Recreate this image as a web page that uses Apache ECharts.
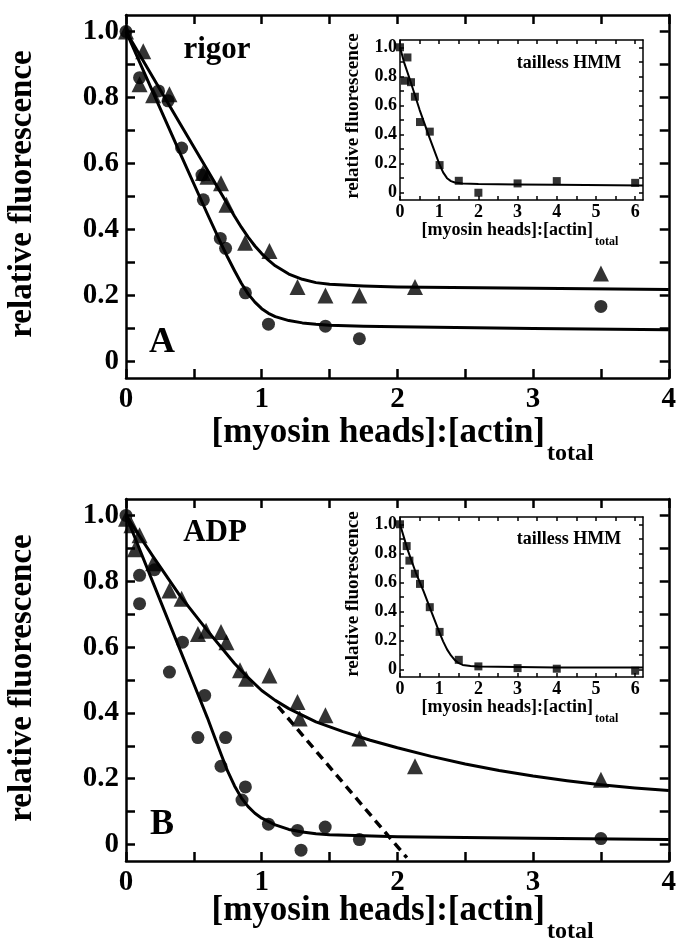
<!DOCTYPE html>
<html>
<head>
<meta charset="utf-8">
<script src="https://cdn.jsdelivr.net/npm/echarts@6/dist/echarts.min.js"></script>
<style>
  html, body { margin: 0; padding: 0; background: #fff; }
  #chart { width: 679px; height: 943px; }
</style>
</head>
<body>
<div id="chart"></div>
<script>
// ---- data ----
// panel A (rigor)
const rigorCircles = [[0, 1.0], [0.1, 0.86], [0.24, 0.82], [0.31, 0.79], [0.41, 0.647], [0.56, 0.565],
  [0.57, 0.49], [0.695, 0.373], [0.734, 0.343], [0.88, 0.208], [1.05, 0.113], [1.47, 0.107],
  [1.72, 0.069], [3.5, 0.167]];
const rigorTriangles = [[0, 1.0], [0.127, 0.94], [0.1, 0.84], [0.2, 0.807], [0.32, 0.81], [0.567, 0.571],
  [0.6, 0.56], [0.7, 0.54], [0.74, 0.475], [0.878, 0.36], [1.057, 0.335], [1.264, 0.226],
  [1.47, 0.2], [1.72, 0.2], [2.13, 0.226], [3.5, 0.267]];
const rigorCircleFit = [[0, 1.0], [0.2, 0.815], [0.4, 0.63], [0.6, 0.447], [0.7, 0.358], [0.75, 0.315],
  [0.8, 0.275], [0.85, 0.237], [0.9, 0.205], [0.95, 0.18], [1.0, 0.16], [1.05, 0.146], [1.1, 0.136],
  [1.2, 0.124], [1.3, 0.117], [1.4, 0.113], [1.5, 0.11], [1.75, 0.107], [2.0, 0.105], [3.0, 0.1],
  [4.0, 0.096]];
const rigorTriangleFit = [[0, 1.0], [0.2, 0.86], [0.4, 0.72], [0.6, 0.58], [0.8, 0.44], [0.85, 0.407],
  [0.9, 0.377], [0.95, 0.35], [1.0, 0.327], [1.05, 0.307], [1.1, 0.29], [1.2, 0.265], [1.3, 0.249],
  [1.4, 0.239], [1.5, 0.234], [1.75, 0.229], [2.0, 0.226], [3.0, 0.222], [4.0, 0.218]];
const rigorInsetSquares = [[0, 1.0], [0.125, 0.77], [0.19, 0.93], [0.28, 0.76], [0.38, 0.66], [0.51, 0.486],
  [0.76, 0.42], [1.01, 0.19], [1.5, 0.082], [2.0, 0.0], [3.0, 0.064], [4.0, 0.08], [6.0, 0.068]];
const rigorInsetFit = [[0, 1.0], [0.1, 0.9], [0.25, 0.78], [0.5, 0.57], [0.75, 0.38], [1.0, 0.2],
  [1.1, 0.14], [1.2, 0.1], [1.3, 0.08], [1.4, 0.07], [1.6, 0.064], [2.0, 0.06], [3.0, 0.057],
  [4.0, 0.054], [6.2, 0.05]];

// panel B (ADP)
const adpCircles = [[0, 1.0], [0.1, 0.818], [0.1, 0.732], [0.21, 0.835], [0.32, 0.524], [0.416, 0.615],
  [0.58, 0.453], [0.53, 0.325], [0.734, 0.325], [0.7, 0.238], [0.88, 0.175], [0.855, 0.135],
  [1.05, 0.062], [1.264, 0.043], [1.29, -0.017], [1.468, 0.053], [1.72, 0.015], [3.5, 0.018]];
const adpTriangles = [[0, 0.99], [0.04, 0.97], [0.1, 0.94], [0.066, 0.897], [0.2, 0.855], [0.32, 0.772],
  [0.41, 0.747], [0.53, 0.64], [0.59, 0.65], [0.7, 0.646], [0.74, 0.615], [0.84, 0.53], [0.885, 0.504],
  [1.057, 0.514], [1.264, 0.433], [1.28, 0.383], [1.47, 0.393], [1.72, 0.322], [2.13, 0.238], [3.5, 0.197]];
const adpCircleFit = [[0, 1.0], [0.2, 0.795], [0.4, 0.59], [0.5, 0.488], [0.6, 0.385], [0.65, 0.33],
  [0.7, 0.275], [0.75, 0.222], [0.8, 0.178], [0.85, 0.142], [0.9, 0.115], [0.95, 0.095], [1.0, 0.08],
  [1.1, 0.06], [1.2, 0.046], [1.3, 0.038], [1.4, 0.033], [1.5, 0.03], [2.0, 0.024], [3.0, 0.019],
  [4.0, 0.015]];
const adpTriangleFit = [[0, 1.0], [0.2, 0.875], [0.4, 0.755], [0.6, 0.65], [0.8, 0.55], [0.9, 0.507],
  [1.0, 0.468], [1.1, 0.438], [1.2, 0.413], [1.4, 0.373], [1.6, 0.343], [1.8, 0.317], [2.0, 0.294],
  [2.25, 0.268], [2.5, 0.245], [2.75, 0.225], [3.0, 0.208], [3.25, 0.194], [3.5, 0.182], [3.75, 0.172],
  [4.0, 0.164]];
const adpDashed = [[1.12, 0.42], [2.07, -0.04]];
const adpInsetSquares = [[0, 1.0], [0.17, 0.85], [0.24, 0.75], [0.38, 0.66], [0.51, 0.59], [0.76, 0.43],
  [1.01, 0.26], [1.5, 0.068], [2.0, 0.023], [3.0, 0.011], [4.0, 0.007], [6.0, -0.007]];
const adpInsetFit = [[0, 1.0], [0.1, 0.91], [0.2, 0.82], [0.4, 0.67], [0.6, 0.54], [0.8, 0.4], [1.0, 0.26],
  [1.1, 0.195], [1.2, 0.14], [1.3, 0.098], [1.4, 0.066], [1.5, 0.045], [1.6, 0.033], [1.8, 0.025],
  [2.0, 0.022], [3.0, 0.018], [4.0, 0.016], [6.2, 0.015]];

// tick labels
const mainXLabels = [0, 1, 2, 3, 4];
const mainXTicks = [0, 0.5, 1, 1.5, 2, 2.5, 3, 3.5, 4];
const yLabels = [0, 0.2, 0.4, 0.6, 0.8, 1.0];
const yTicks = [0, 0.1, 0.2, 0.3, 0.4, 0.5, 0.6, 0.7, 0.8, 0.9, 1.0];
const insetXLabels = [0, 1, 2, 3, 4, 5, 6];
const insetXTicks = [0, 0.5, 1, 1.5, 2, 2.5, 3, 3.5, 4, 4.5, 5, 5.5, 6];

const FONT = '"Liberation Serif", "DejaVu Serif", serif';
const yFmt = v => (v === 0 ? '0' : v.toFixed(1));

var chart = echarts.init(document.getElementById('chart'));

// one panel = main grid + inset grid, each with mirrored axes on all four sides
function xPair(grid, max, labels, ticks, opts) {
  const common = {
    type: 'value', gridIndex: grid, min: 0, max: max,
    splitLine: { show: false },
    axisLine: { show: true, onZero: false, lineStyle: { color: '#000', width: opts.lw } },
    axisTick: { show: true, inside: true, length: opts.tick, customValues: ticks,
      lineStyle: { color: '#000', width: opts.lw } }
  };
  return [
    Object.assign({}, common, { position: 'bottom',
      axisLabel: { show: true, customValues: labels, margin: opts.margin, color: '#000',
        fontFamily: FONT, fontWeight: 'bold', fontSize: opts.fs } }),
    Object.assign({}, common, { position: 'top', axisLabel: { show: false } })
  ];
}
function yPair(grid, labels, ticks, opts) {
  const common = {
    type: 'value', gridIndex: grid, min: -0.05, max: 1.05,
    splitLine: { show: false },
    axisLine: { show: true, onZero: false, lineStyle: { color: '#000', width: opts.lw } },
    axisTick: { show: true, inside: true, length: opts.tick, customValues: ticks,
      lineStyle: { color: '#000', width: opts.lw } }
  };
  return [
    Object.assign({}, common, { position: 'left',
      axisLabel: { show: true, customValues: labels, formatter: yFmt, margin: opts.margin, color: '#000',
        fontFamily: FONT, fontWeight: 'bold', fontSize: opts.fs } }),
    Object.assign({}, common, { position: 'right', axisLabel: { show: false } })
  ];
}

const mainOpt = { lw: 2.5, tick: 9, margin: 7, fs: 29 };
const insetOpt = { lw: 1.5, tick: 4, margin: 3, fs: 18 };

const xAxes = [].concat(
  xPair(0, 4, mainXLabels, mainXTicks, mainOpt),
  xPair(1, 6.2, insetXLabels, insetXTicks, insetOpt),
  xPair(2, 4, mainXLabels, mainXTicks, mainOpt),
  xPair(3, 6.2, insetXLabels, insetXTicks, insetOpt)
);
const yAxes = [].concat(
  yPair(0, yLabels, yTicks, mainOpt),
  yPair(1, yLabels, yTicks, insetOpt),
  yPair(2, yLabels, yTicks, mainOpt),
  yPair(3, yLabels, yTicks, insetOpt)
);

function scatter(axis, data, symbol, size) {
  return { type: 'scatter', xAxisIndex: axis, yAxisIndex: axis, data: data, symbol: symbol,
    symbolSize: size, itemStyle: { color: '#000' }, z: 3 };
}
function fit(axis, data, width, dashed) {
  return { type: 'line', xAxisIndex: axis, yAxisIndex: axis, data: data, showSymbol: false,
    smooth: false,
    lineStyle: { color: '#000', width: width, type: dashed ? [9, 6] : 'solid', join: 'round' }, z: 2 };
}

function label(text, x, y, size, extra) {
  return Object.assign({
    type: 'text', x: x, y: y,
    style: { text: text, font: 'bold ' + size + 'px ' + FONT, fill: '#000',
      align: 'center', verticalAlign: 'middle', textAlign: 'center', textVerticalAlign: 'middle' }
  }, extra || {});
}
function leftLabel(text, x, y, size) {
  const t = label(text, x, y, size);
  t.style.align = t.style.textAlign = 'left';
  return t;
}
function rightLabel(text, x, y, size) {
  const t = label(text, x, y, size);
  t.style.align = t.style.textAlign = 'right';
  return t;
}

const option = {
  backgroundColor: '#fff',
  animation: false,
  grid: [
    { left: 126, top: 15, width: 545, height: 363 },
    { left: 400, top: 40, width: 243, height: 160, show: true, backgroundColor: '#fff', borderWidth: 0 },
    { left: 126, top: 499, width: 545, height: 362 },
    { left: 400, top: 517, width: 243, height: 160, show: true, backgroundColor: '#fff', borderWidth: 0 }
  ],
  xAxis: xAxes,
  yAxis: yAxes,
  series: [
    // A main
    fit(0, rigorCircleFit, 3),
    fit(0, rigorTriangleFit, 3),
    scatter(0, rigorCircles, 'circle', 13),
    scatter(0, rigorTriangles, 'triangle', 16),
    // A inset
    fit(2, rigorInsetFit, 2),
    scatter(2, rigorInsetSquares, 'rect', 8),
    // B main
    fit(4, adpCircleFit, 3),
    fit(4, adpTriangleFit, 3),
    fit(4, adpDashed, 3.5, true),
    scatter(4, adpCircles, 'circle', 13),
    scatter(4, adpTriangles, 'triangle', 16),
    // B inset
    fit(6, adpInsetFit, 2),
    scatter(6, adpInsetSquares, 'rect', 8)
  ],
  graphic: [
    // panel A texts
    label('relative fluorescence', 22, 194, 33, { rotation: Math.PI / 2 }),
    rightLabel('[myosin heads]:[actin]', 545, 433, 35),
    leftLabel('total', 547, 454, 24),
    label('rigor', 217, 50, 31),
    label('A', 162, 343, 36),
    label('tailless HMM', 569, 63, 18),
    label('relative fluorescence', 353, 116, 19, { rotation: Math.PI / 2 }),
    rightLabel('[myosin heads]:[actin]', 593, 230, 18),
    leftLabel('total', 595, 242, 12),
    // panel B texts
    label('relative fluorescence', 22, 678, 33, { rotation: Math.PI / 2 }),
    rightLabel('[myosin heads]:[actin]', 545, 911, 35),
    leftLabel('total', 547, 932, 24),
    label('ADP', 215, 533, 31),
    label('B', 162, 825, 36),
    label('tailless HMM', 569, 539, 18),
    label('relative fluorescence', 353, 594, 19, { rotation: Math.PI / 2 }),
    rightLabel('[myosin heads]:[actin]', 593, 707, 18),
    leftLabel('total', 595, 719, 12)
  ]
};

chart.setOption(option);
window.addEventListener('resize', function () {
  chart.resize();
});
</script>
</body>
</html>
